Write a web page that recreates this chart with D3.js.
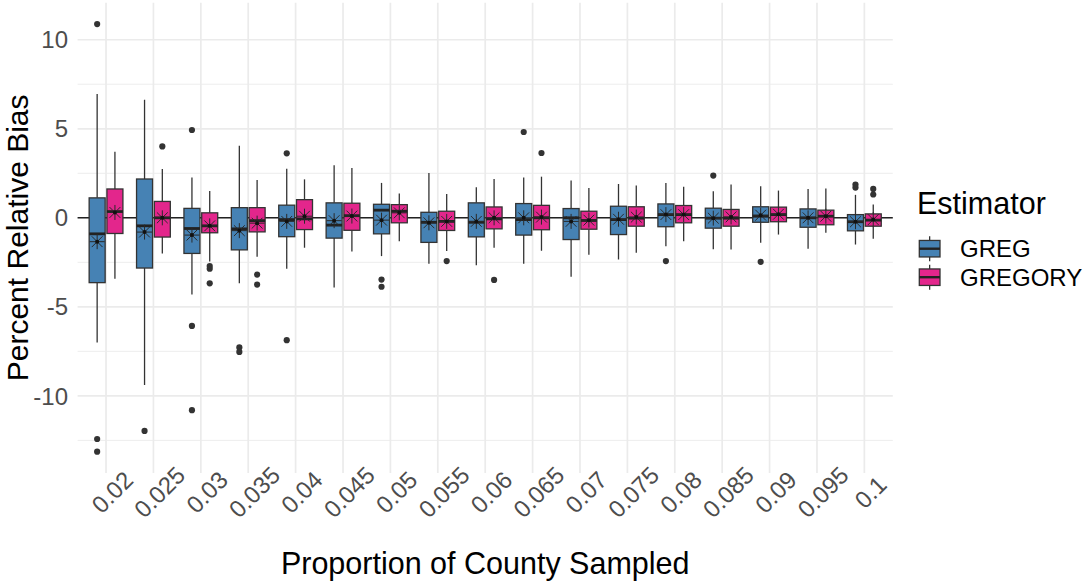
<!DOCTYPE html>
<html>
<head>
<meta charset="utf-8">
<script src="https://cdn.jsdelivr.net/npm/d3@7"></script>
<style>
  html, body { margin: 0; padding: 0; background: #ffffff; }
  svg { display: block; font-family: "Liberation Sans", Arial, sans-serif; }
</style>
</head>
<body>
<svg id="chart" width="1084" height="585"></svg>
<script>
// ---------------- data ----------------
const categories = ["0.02","0.025","0.03","0.035","0.04","0.045","0.05","0.055","0.06",
                    "0.065","0.07","0.075","0.08","0.085","0.09","0.095","0.1"];
const seriesNames = ["GREG", "GREGORY"];
const seriesColors = ["#4682B4", "#E3268C"];
const yTicks = [-10, -5, 0, 5, 10];
const yMinorTicks = [-12.5, -7.5, -2.5, 2.5, 7.5];

// [lower whisker, Q1, median, Q3, upper whisker]
const gregBox = [
  [-7.00, -3.64, -0.90, 1.12, 6.96],
  [-9.39, -2.82, -0.45, 2.18, 6.63],
  [-4.30, -2.00, -0.60, 0.53, 2.27],
  [-3.68, -1.80, -0.62, 0.57, 4.05],
  [-2.86, -1.06, -0.10, 0.71, 2.76],
  [-3.92, -1.14, -0.41, 0.84, 2.95],
  [-2.15, -0.90,  0.43, 0.76, 1.96],
  [-2.58, -1.38, -0.25, 0.31, 2.52],
  [-2.67, -1.07, -0.25, 0.84, 1.72],
  [-2.58, -0.97, -0.10, 0.80, 2.27],
  [-3.31, -1.22,  0.00, 0.52, 2.09],
  [-2.34, -0.94, -0.10, 0.65, 1.90],
  [-1.59, -0.50,  0.18, 0.78, 1.96],
  [-1.76, -0.58, -0.02, 0.54, 1.49],
  [-1.40, -0.25,  0.09, 0.62, 1.77],
  [-1.74, -0.53,  0.00, 0.50, 1.62],
  [-1.50, -0.73, -0.22, 0.18, 1.29]
];
const gregMean = [-1.34, -0.80, -0.97, -0.72, -0.20, -0.16, -0.13, -0.28, -0.20,
                  0.00, -0.20, -0.08, 0.18, -0.02, 0.15, 0.00, -0.22];
const gregOutliers = [
  [10.88, -12.42, -13.13], [-11.97], [4.93, -6.07, -10.80], [-7.28, -7.53], [3.62, -6.87],
  [], [-3.47, -3.87], [], [], [4.82], [], [], [-2.43], [2.37], [-2.47], [], [1.87, 1.70]
];

const gregoryBox = [
  [-3.42, -0.88,  0.35, 1.62, 3.71],
  [-2.00, -1.08,  0.00, 0.92, 2.74],
  [-2.46, -0.84, -0.45, 0.28, 1.51],
  [-2.18, -0.79, -0.16, 0.57, 2.13],
  [-1.68, -0.66, -0.06, 1.02, 2.16],
  [-1.89, -0.70,  0.12, 0.82, 2.80],
  [-1.31, -0.28,  0.37, 0.74, 1.36],
  [-1.87, -0.71, -0.20, 0.37, 1.34],
  [-1.68, -0.62, -0.06, 0.61, 2.18],
  [-1.85, -0.67,  0.00, 0.70, 2.31],
  [-2.07, -0.64, -0.15, 0.37, 1.68],
  [-1.96, -0.47, -0.02, 0.62, 1.81],
  [-1.31, -0.28,  0.18, 0.69, 1.74],
  [-1.78, -0.47, -0.02, 0.47, 1.87],
  [-0.94, -0.22,  0.18, 0.60, 1.53],
  [-0.84, -0.39,  0.09, 0.43, 1.64],
  [-1.18, -0.47, -0.13, 0.22, 0.75]
];
const gregoryMean = [0.30, 0.00, -0.45, -0.30, 0.09, 0.10, 0.28, -0.20, 0.00,
                     0.04, -0.13, 0.04, 0.18, 0.05, 0.20, 0.09, -0.10];
const gregoryOutliers = [
  [], [4.01], [-2.71, -2.86, -3.68], [-3.19, -3.75], [], [], [], [-2.43], [-3.49],
  [3.64], [], [], [], [], [], [], [1.62, 1.31]
];

// ---------------- layout ----------------
const svg = d3.select("#chart");
const panel = { left: 77.6, right: 892.8, top: 2.7, bottom: 473 };

const x = d3.scalePoint().domain(categories).range([panel.left, panel.right]).padding(0.6);
const y = d3.scaleLinear().domain([-14.33, 12.08]).range([panel.bottom, panel.top]);
const step = x.step();
const boxW = 0.3375 * step;
const dodge = [-0.1875 * step, 0.1875 * step];

const textGrey = "#4D4D4D";
const gridCol = "#EBEBEB";
const lineCol = "#333333";

// grid
const grid = svg.append("g");
grid.selectAll("line.minor").data(yMinorTicks).join("line")
  .attr("x1", panel.left).attr("x2", panel.right)
  .attr("y1", d => y(d)).attr("y2", d => y(d))
  .attr("stroke", gridCol).attr("stroke-width", 0.9);
grid.selectAll("line.major").data(yTicks).join("line")
  .attr("x1", panel.left).attr("x2", panel.right)
  .attr("y1", d => y(d)).attr("y2", d => y(d))
  .attr("stroke", gridCol).attr("stroke-width", 1.7);
grid.selectAll("line.vert").data(categories).join("line")
  .attr("x1", d => x(d)).attr("x2", d => x(d))
  .attr("y1", panel.top).attr("y2", panel.bottom)
  .attr("stroke", gridCol).attr("stroke-width", 1.7);

// zero reference line
svg.append("line")
  .attr("x1", panel.left).attr("x2", panel.right)
  .attr("y1", y(0)).attr("y2", y(0))
  .attr("stroke", "#222222").attr("stroke-width", 1.6);

// boxes
const seriesBoxes = [gregBox, gregoryBox];
const seriesMeans = [gregMean, gregoryMean];
const seriesOut = [gregOutliers, gregoryOutliers];

seriesNames.forEach((name, s) => {
  const g = svg.append("g").attr("class", "series-" + name);
  categories.forEach((c, i) => {
    const [lw, q1, med, q3, uw] = seriesBoxes[s][i];
    const cx = x(c) + dodge[s];
    // whiskers
    g.append("line").attr("x1", cx).attr("x2", cx).attr("y1", y(uw)).attr("y2", y(q3))
      .attr("stroke", lineCol).attr("stroke-width", 1.3);
    g.append("line").attr("x1", cx).attr("x2", cx).attr("y1", y(q1)).attr("y2", y(lw))
      .attr("stroke", lineCol).attr("stroke-width", 1.3);
    // box
    g.append("rect").attr("x", cx - boxW / 2).attr("width", boxW)
      .attr("y", y(q3)).attr("height", y(q1) - y(q3))
      .attr("fill", seriesColors[s]).attr("stroke", lineCol).attr("stroke-width", 1.3);
    // median
    g.append("line").attr("x1", cx - boxW / 2).attr("x2", cx + boxW / 2)
      .attr("y1", y(med)).attr("y2", y(med))
      .attr("stroke", "#222222").attr("stroke-width", 2.8);
    // outliers
    seriesOut[s][i].forEach(v => {
      g.append("circle").attr("cx", cx).attr("cy", y(v)).attr("r", 3.1).attr("fill", lineCol);
    });
    // mean marker: asterisk (pch 8) + dot
    const my = y(seriesMeans[s][i]);
    const r = 7.5, dr = 5.4;
    const ast = g.append("g").attr("stroke", "#2a2a2a").attr("stroke-width", 1);
    ast.append("line").attr("x1", cx).attr("x2", cx).attr("y1", my - r).attr("y2", my + r);
    ast.append("line").attr("x1", cx - r).attr("x2", cx + r).attr("y1", my).attr("y2", my);
    ast.append("line").attr("x1", cx - dr).attr("x2", cx + dr).attr("y1", my - dr).attr("y2", my + dr);
    ast.append("line").attr("x1", cx - dr).attr("x2", cx + dr).attr("y1", my + dr).attr("y2", my - dr);
    g.append("circle").attr("cx", cx).attr("cy", my).attr("r", 2).attr("fill", "#111111");
  });
});

// y axis labels
svg.append("g").selectAll("text").data(yTicks).join("text")
  .attr("x", 68).attr("y", d => y(d)).attr("dy", "0.36em")
  .attr("text-anchor", "end").attr("font-size", 24).attr("fill", textGrey)
  .text(d => d);

// x axis labels (rotated 45)
svg.append("g").selectAll("text").data(categories).join("text")
  .attr("transform", d => `translate(${x(d) + 6},${492}) rotate(-45)`)
  .attr("text-anchor", "middle").attr("dy", "0.36em")
  .attr("font-size", 24).attr("fill", textGrey)
  .text(d => d);

// axis titles
svg.append("text")
  .attr("x", (panel.left + panel.right) / 2).attr("y", 574)
  .attr("text-anchor", "middle").attr("font-size", 30.5).attr("fill", "#000")
  .text("Proportion of County Sampled");
svg.append("text")
  .attr("transform", `translate(27.5,${(panel.top + panel.bottom) / 2}) rotate(-90)`)
  .attr("text-anchor", "middle").attr("font-size", 30).attr("fill", "#000")
  .text("Percent Relative Bias");

// legend
const lg = svg.append("g");
lg.append("text").attr("x", 917).attr("y", 214).attr("font-size", 30.5).attr("fill", "#000")
  .text("Estimator");
const keyCenters = [248.7, 277.2];
seriesNames.forEach((name, s) => {
  const cy = keyCenters[s];
  const kx = 919.3, kw = 20.7, kh = 16.5;
  lg.append("line").attr("x1", kx + kw / 2).attr("x2", kx + kw / 2)
    .attr("y1", cy - 12.5).attr("y2", cy + 12.5)
    .attr("stroke", lineCol).attr("stroke-width", 1.3);
  lg.append("rect").attr("x", kx).attr("y", cy - kh / 2).attr("width", kw).attr("height", kh)
    .attr("fill", seriesColors[s]).attr("stroke", lineCol).attr("stroke-width", 1.3);
  lg.append("line").attr("x1", kx).attr("x2", kx + kw).attr("y1", cy).attr("y2", cy)
    .attr("stroke", "#222222").attr("stroke-width", 2.4);
  lg.append("text").attr("x", 960).attr("y", cy).attr("dy", "0.36em")
    .attr("font-size", 24).attr("fill", "#000").text(name);
});
</script>
</body>
</html>
